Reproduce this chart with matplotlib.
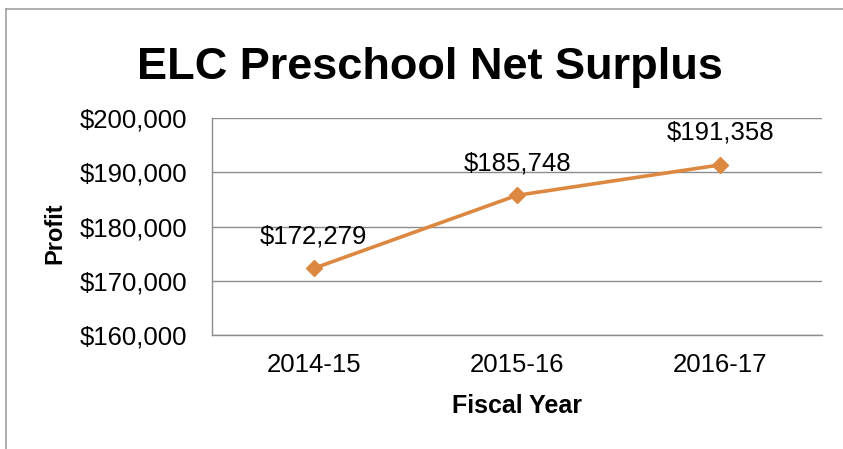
import matplotlib.pyplot as plt
import matplotlib.ticker as mticker
from matplotlib.lines import Line2D

plt.rcParams['font.family'] = ['Liberation Sans', 'DejaVu Sans']

years = ['2014-15', '2015-16', '2016-17']
profit = [172279, 185748, 191358]
y_ticks = [160000, 170000, 180000, 190000, 200000]

line_color = '#DD8840'
grid_color = '#8C8C8C'

fig = plt.figure(figsize=(8.43, 4.49), dpi=100)
ax = fig.add_axes([212/843, 1 - 335/449, 610/843, 217/449])

x = range(len(years))
ax.plot(x, profit, color=line_color, linewidth=2.6, marker='D', markersize=8.5,
        zorder=3)

for xi, v in zip(x, profit):
    ax.annotate('${:,.0f}'.format(v), (xi, v), xytext=(0, 23),
                textcoords='offset points', ha='center', va='center', fontsize=18.5)

ax.set_xlim(-0.5, len(years) - 0.5)
ax.set_ylim(160000, 200000)
ax.set_xticks(list(x))
ax.set_xticklabels(years)
ax.set_yticks(y_ticks)
ax.yaxis.set_major_formatter(mticker.FuncFormatter(lambda v, p: '${:,.0f}'.format(v)))
ax.tick_params(axis='both', length=0, labelsize=18.5)
ax.tick_params(axis='x', pad=13)
ax.tick_params(axis='y', pad=18)

ax.grid(axis='y', color=grid_color, linewidth=1)
ax.set_axisbelow(True)
for side in ['top', 'right']:
    ax.spines[side].set_visible(False)
for side in ['left', 'bottom']:
    ax.spines[side].set_color(grid_color)
    ax.spines[side].set_linewidth(1)

ax.set_xlabel('Fiscal Year', fontsize=18, fontweight='bold')
ax.set_ylabel('Profit', fontsize=17, fontweight='bold')
ax.xaxis.set_label_coords(517/843, 1 - 406/449, transform=fig.transFigure)
ax.yaxis.set_label_coords(55/843, 1 - 233/449, transform=fig.transFigure)
ax.xaxis.label.set_va('center')
ax.yaxis.label.set_va('center')

fig.suptitle('ELC Preschool Net Surplus', fontsize=32.5, fontweight='bold', x=430/843,
             y=1 - 67/449, va='center')

# outer chart frame (left and top edges visible)
fig.add_artist(Line2D([6/843, 6/843], [0, 1 - 9/449], color='#A0A0A0', linewidth=1.2))
fig.add_artist(Line2D([6/843, 1], [1 - 9/449, 1 - 9/449], color='#A0A0A0', linewidth=1.2))

fig.savefig('out.png', dpi=100)
